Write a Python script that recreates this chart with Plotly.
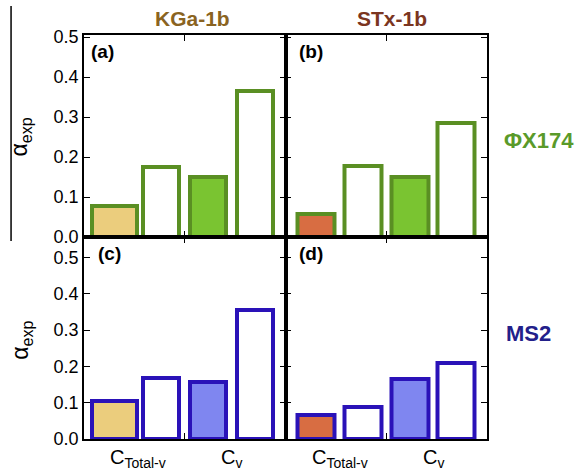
import plotly.graph_objects as go
from plotly.subplots import make_subplots

# bar positions: C_Total-v (sorbed), C_Total-v, C_v (sorbed), C_v
positions = [0, 1, 2, 3]
vals_a = [0.078, 0.175, 0.150, 0.366]   # KGa-1b, PhiX174
vals_b = [0.058, 0.178, 0.150, 0.284]   # STx-1b, PhiX174
vals_c = [0.105, 0.168, 0.157, 0.355]   # KGa-1b, MS2
vals_d = [0.066, 0.088, 0.166, 0.208]   # STx-1b, MS2
group_labels = ["C<sub>Total-v</sub>", "C<sub>v</sub>"]
group_centers = [0.5, 2.5]
clays = ["KGa-1b", "STx-1b"]
viruses = ["ΦX174", "MS2"]
panel_tags = ["(a)", "(b)", "(c)", "(d)"]

green_line = "#5a8f23"
green_fill = "#7ac431"
tan = "#ebcd7d"
orange = "#d86d42"
blue_line = "#2a12b8"
blue_fill = "#7f86f0"

FONT = "Liberation Sans, Arial, sans-serif"

fig = make_subplots(rows=2, cols=2, horizontal_spacing=0, vertical_spacing=0)

panels = [
    (1, 1, vals_a, green_line, [tan, "white", green_fill, "white"], [0.95, 0.77, 0.77, 0.77]),
    (1, 2, vals_b, green_line, [orange, "white", green_fill, "white"], [0.79, 0.79, 0.79, 0.79]),
    (2, 1, vals_c, blue_line, [tan, "white", blue_fill, "white"], [0.95, 0.77, 0.77, 0.77]),
    (2, 2, vals_d, blue_line, [orange, "white", blue_fill, "white"], [0.79, 0.79, 0.79, 0.79]),
]
for r, c, vals, lc, fills, widths in panels:
    fig.add_trace(go.Bar(x=positions, y=vals, width=widths,
                         marker=dict(color=fills, line=dict(color=lc, width=4)),
                         showlegend=False), row=r, col=c)

axis_common = dict(showline=True, linecolor="black", linewidth=1.5, mirror="ticks",
                   ticks="inside", ticklen=6, tickcolor="black", showgrid=False,
                   zeroline=False)
for r in (1, 2):
    for c in (1, 2):
        fig.update_xaxes(range=[-0.655, 3.655], tickvals=[1.5], showticklabels=False,
                         fixedrange=True, row=r, col=c, **axis_common)
        fig.update_yaxes(range=[0, 0.505] if r == 1 else [0, 0.556],
                         tickvals=[0, 0.1, 0.2, 0.3, 0.4, 0.5], tickformat=".1f",
                         showticklabels=(c == 1),
                         tickfont=dict(family=FONT, size=18, color="black"),
                         row=r, col=c, **axis_common)

ann = []
# panel tags
tag_pos = [("x domain", "y domain", 0.025), ("x2 domain", "y2 domain", 0.055),
           ("x3 domain", "y3 domain", 0.06), ("x4 domain", "y4 domain", 0.055)]
for (xr, yr, xp), t in zip(tag_pos, panel_tags):
    ann.append(dict(text="<b>%s</b>" % t, xref=xr, yref=yr, x=xp, y=0.98,
                    xanchor="left", yanchor="top", showarrow=False,
                    font=dict(family=FONT, size=19, color="black")))


def label(text, x, y, color, size=21, angle=0):
    return dict(text=text, xref="paper", yref="paper", x=x, y=y,
                xanchor="center", yanchor="middle", textangle=angle,
                showarrow=False, font=dict(family=FONT, size=size, color=color))


# column titles
ann.append(label("<b>%s</b>" % clays[0], 0.27, 1.042, "#8a6321"))
ann.append(label("<b>%s</b>" % clays[1], 0.764, 1.042, "#7b3520"))
# row labels
ann.append(label("<b>%s</b>" % viruses[0], 1.13, 0.74, "#5a9a2a", size=22))
ann.append(label("<b>%s</b>" % viruses[1], 1.102, 0.262, "#22208a", size=22))
# y titles
for yp in (0.748, 0.245):
    ann.append(label("α<sub>exp</sub>", -0.157, yp, "black", size=23, angle=-90))
# x group labels
for xr in ("x3", "x4"):
    for gx, gl in zip(group_centers, group_labels):
        ann.append(dict(text=gl, xref=xr, yref="paper", x=gx, y=-0.012,
                        xanchor="center", yanchor="top", showarrow=False,
                        font=dict(family=FONT, size=20, color="black")))

fig.update_layout(
    width=578, height=475,
    margin=dict(l=84, r=91, t=35, b=36),
    paper_bgcolor="white", plot_bgcolor="white",
    annotations=ann,
    bargap=0,
    shapes=[dict(type="line", xref="paper", yref="paper",
                 x0=-0.181, x1=-0.181, y0=1.072, y1=0.49,
                 line=dict(color="black", width=1.5))],
)

fig.write_html("out.html")
